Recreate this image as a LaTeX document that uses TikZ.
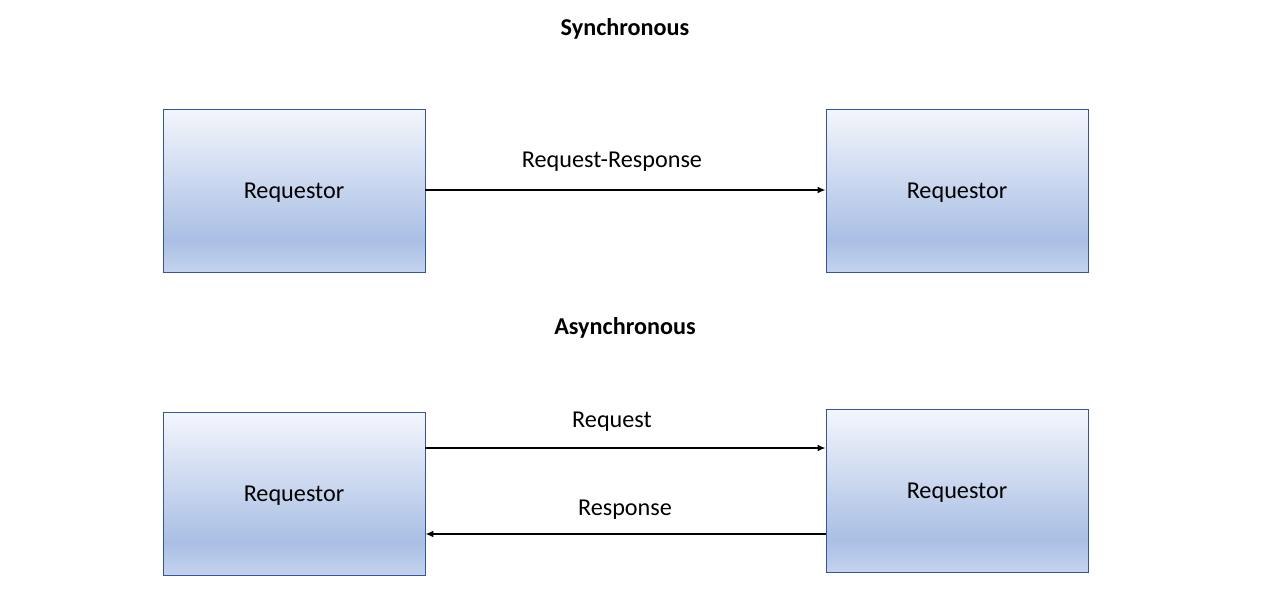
\documentclass[tikz,border=0pt]{standalone}
\usepackage{fontspec}
\setmainfont{Carlito}
\usetikzlibrary{arrows.meta}
\definecolor{shtop}{HTML}{F4F6FC}
\definecolor{shmid}{HTML}{A9BFE4}
\definecolor{shbot}{HTML}{C4D3EE}
\definecolor{boxline}{HTML}{3355A5}
\pgfdeclareverticalshading{boxshade}{100bp}{color(0bp)=(shbot); color(25bp)=(shbot); color(35bp)=(shmid); color(75bp)=(shtop); color(100bp)=(shtop)}
\tikzset{
  reqbox/.style={draw=boxline, line width=0.9pt, shading=boxshade, minimum width=262pt, minimum height=163pt, inner sep=0pt, text depth=-4pt, font=\fontsize{24.2}{29}\selectfont},
  lbl/.style={font=\fontsize{24.2}{29}\selectfont, inner sep=0pt},
  ttl/.style={font=\bfseries\fontsize{24.2}{29}\selectfont, inner sep=0pt},
  conn/.style={line width=1.6pt, -{Latex[length=8pt,width=7pt]}}
}
\begin{document}
\begin{tikzpicture}[x=1pt,y=-1pt]
\useasboundingbox (0,0) rectangle (1280,598);
\node[ttl] (t1) at (625,29) {Synchronous};
\node[ttl] (t2) at (625,328) {Asynchronous};
\node[reqbox] (a) at (294,190.5) {Requestor};
\node[reqbox] (b) at (957,190.5) {Requestor};
\node[reqbox] (c) at (294,493.5) {Requestor};
\node[reqbox] (d) at (957,490.5) {Requestor};
\draw[conn] (a.east |- 0,190) -- (b.west |- 0,190);
\node[lbl] (l1) at (612,162) {Request-Response};
\draw[conn] (c.east |- 0,448) -- (d.west |- 0,448);
\draw[conn] (d.west |- 0,534) -- (c.east |- 0,534);
\node[lbl] (l2) at (612,422) {Request};
\node[lbl] (l3) at (625,510) {Response};
\end{tikzpicture}
\end{document}
